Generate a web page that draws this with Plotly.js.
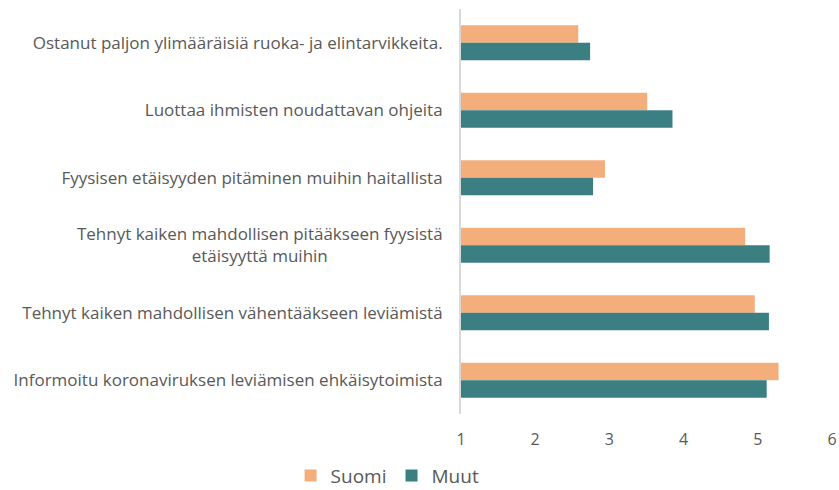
<!DOCTYPE html>
<html>
<head>
<meta charset="utf-8">
<script src="https://cdn.plot.ly/plotly-3.0.1.min.js"></script>
<style>html,body{margin:0;padding:0;background:#fff;}#chart{width:839px;height:490px;}</style>
</head>
<body>
<div id="chart"></div>
<script>
var NB = "\u00A0";
var categories = [
  "Ostanut paljon ylimääräisiä ruoka- ja elintarvikkeita.",
  "Luottaa ihmisten noudattavan ohjeita",
  "Fyysisen etäisyyden pitäminen muihin haitallista",
  "Tehnyt kaiken mahdollisen pitääkseen fyysistä<br>etäisyyttä muihin" + NB.repeat(26),
  "Tehnyt kaiken mahdollisen vähentääkseen leviämistä",
  "Informoitu koronaviruksen leviämisen ehkäisytoimista"
];
var suomi = [2.58, 3.51, 2.94, 4.83, 4.96, 5.28];
var muut  = [2.74, 3.85, 2.78, 5.16, 5.15, 5.12];
var xTicks = [1, 2, 3, 4, 5, 6];

var font = "'Open Sans', 'Liberation Sans', sans-serif";
var traces = [
  {type: 'bar', orientation: 'h', name: 'Suomi', y: categories, x: suomi,
   marker: {color: '#F4AE7C', line: {width: 0}}},
  {type: 'bar', orientation: 'h', name: 'Muut', y: categories, x: muut,
   marker: {color: '#3B7F83', line: {width: 0}}}
];
var layout = {
  width: 839, height: 490,
  margin: {l: 461, r: 7, t: 9, b: 76, autoexpand: false},
  barmode: 'group', bargap: 0.48, bargroupgap: 0,
  paper_bgcolor: '#fff', plot_bgcolor: '#fff',
  font: {family: font, color: '#595959', size: 17},
  showlegend: true,
  legend: {orientation: 'h', x: 0.462, xref: 'container', xanchor: 'center',
           y: -0.152, yref: 'paper', yanchor: 'middle',
           font: {size: 19, color: '#595959'}, itemwidth: 30, traceorder: 'normal'},
  xaxis: {range: [1, 6], tickvals: xTicks, ticktext: xTicks.map(String), showgrid: false, zeroline: false,
          showline: false, ticks: '', ticklabelstandoff: 14, tickfont: {size: 16, color: '#595959'}, fixedrange: true},
  yaxis: {type: 'category', autorange: 'reversed', showgrid: false, zeroline: false,
          showline: true, linecolor: '#D9D9D9', linewidth: 2, ticks: '', ticklabelstandoff: 13,
          tickfont: {size: 17, color: '#595959'}, fixedrange: true}
};
// bars start at x=1 (axis origin)
traces.forEach(function(t){ t.base = 1; t.x = t.x.map(function(v){ return v - 1; }); });
Plotly.newPlot('chart', traces, layout, {displayModeBar: false, staticPlot: true});
</script>
</body>
</html>
